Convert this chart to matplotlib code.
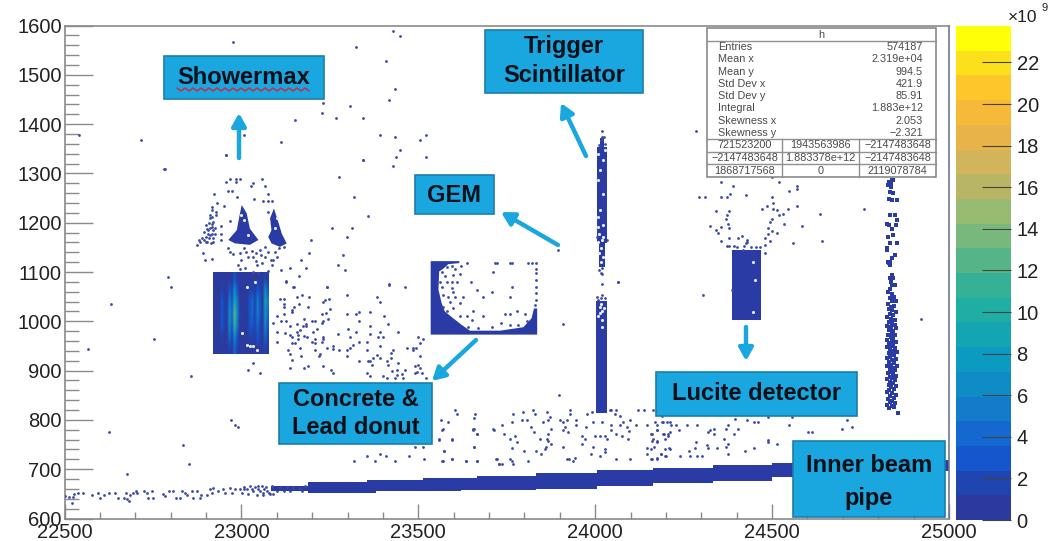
import numpy as np
import matplotlib
matplotlib.use("Agg")
import matplotlib.pyplot as plt
from matplotlib.colors import ListedColormap, Normalize
from matplotlib.patches import Rectangle, Polygon
from matplotlib.ticker import MultipleLocator

plt.rcParams["font.family"] = ["Liberation Sans", "DejaVu Sans"]

X_TICKS = [22500, 23000, 23500, 24000, 24500, 25000]
Y_TICKS = [600, 700, 800, 900, 1000, 1100, 1200, 1300, 1400, 1500, 1600]
CBAR_TICKS = [0, 2, 4, 6, 8, 10, 12, 14, 16, 18, 20, 22]
CBAR_MAX = 23.75

BAND_COLORS = ["#2c3a9e", "#1f45b0", "#1556cc", "#1468cf", "#127ccb", "#0f8cc6",
               "#0c9bc0", "#14a5b2", "#20aea4", "#35b296", "#55b588", "#78b87c",
               "#98bb72", "#b8b565", "#d2b45a", "#e8b348", "#f6ba38", "#fdc62a",
               "#fde01c", "#ffff08"]

# solid detector blocks: x0, x1, y0, y1
BLOCKS = [(24001, 24032, 814, 1042),
          (24004, 24032, 1158, 1354),
          (24011, 24028, 1111, 1158),
          (24013, 24026, 1354, 1372),
          (24387, 24468, 1003, 1144),
          (23085, 23189, 656, 665),
          (24985, 25000, 697, 717)]

# beam pipe, upper and lower edge per step
PIPE_X = [23189, 23354, 23380, 23512, 23620, 23667, 23834, 24004, 24164, 24333, 24500, 24670, 24850, 25000]
PIPE_TOP = [674, 678, 678, 682, 682, 687, 692, 699, 702, 708, 713, 715, 718, 718]
PIPE_BOT = [652, 652, 655, 655, 657, 657, 660, 665, 671, 677, 685, 690, 697, 697]

DONUT_X = [23535, 23616, 23616, 23585, 23571, 23559, 23557, 23566, 23575, 23599, 23622, 23646,
           23731, 23797, 23820, 23827, 23836, 23836, 23535]
DONUT_Y = [1122, 1122, 1118, 1116, 1107, 1101, 1064, 1037, 1020, 1006, 993, 981,
           981, 988, 1006, 1026, 1026, 973, 973]

CLUMP1_X = [23001, 23015, 23024, 23048, 23024, 22982, 22963, 22987, 22994]
CLUMP1_Y = [1236, 1219, 1188, 1165, 1155, 1158, 1165, 1185, 1212]
CLUMP2_X = [23092, 23104, 23114, 23128, 23109, 23085, 23076, 23085, 23081]
CLUMP2_Y = [1229, 1202, 1178, 1158, 1151, 1158, 1171, 1185, 1209]

# showermax block, 1e9 per cell, rows from the top
SHOWER_EXTENT = (22920, 23077, 934, 1100)
SHOWER_CELLS = [
    [1, 1, 1, 1, 1, 1, 1, 1, 3, 1, 1, 1, 1, 1, 1, 1, 1, 1, 1, 1, 2, 1],
    [1, 1, 1, 2, 1, 1, 3, 2, 6, 3, 1, 1, 1, 1, 2, 2, 1, 3, 2, 1, 6, 3],
    [1, 1, 1, 3, 2, 1, 5, 3, 9, 5, 1, 1, 1, 1, 3, 4, 2, 5, 3, 1, 9, 5],
    [1, 1, 1, 3, 2, 1, 6, 4, 13, 6, 2, 1, 1, 1, 3, 4, 2, 5, 3, 1, 8, 4],
    [1, 1, 1, 3, 2, 1, 6, 3, 11, 5, 1, 1, 1, 1, 3, 3, 2, 4, 2, 1, 6, 3],
    [1, 1, 1, 2, 1, 1, 4, 2, 7, 3, 1, 1, 1, 1, 2, 2, 1, 3, 2, 1, 4, 2],
    [1, 1, 1, 1, 1, 1, 2, 1, 4, 2, 1, 1, 1, 1, 1, 1, 1, 1, 1, 1, 2, 1],
]

TOP_PTS = [(22976, 1567), (23428, 1588), (23448, 1578), (23323, 1557), (23408, 1528), (23433, 1472),
           (23418, 1448), (23231, 1443), (23308, 1437), (23228, 1422), (23267, 1413), (23343, 1413),
           (23152, 1408), (22541, 1378), (22716, 1368), (23006, 1378), (23111, 1363), (23392, 1378),
           (23433, 1373), (23505, 1368), (23523, 1378), (23448, 1348), (23438, 1333), (23523, 1333),
           (22956, 1338), (23343, 1328), (23428, 1314), (22782, 1309), (22631, 1035), (22566, 943)]

SHOWER_OUTER = [(22957, 1338), (22783, 1308), (23343, 1328), (23277, 1293), (23318, 1253), (23359, 1214),
                (23256, 1189), (23312, 1189), (23298, 1170), (23198, 1165), (23192, 1139), (23286, 1134),
                (23168, 1124), (23272, 1114), (23293, 1104), (23182, 1109), (23111, 1105), (23138, 1109),
                (23163, 1091), (23126, 1080), (23148, 1070), (23241, 1070), (23417, 1074), (22793, 1090),
                (22802, 1070), (22752, 965), (22857, 890), (23018, 902), (23053, 895), (23032, 915)]

SHOWER_ARC = [(22957, 1283), (22968, 1288), (22985, 1288), (22996, 1288), (22985, 1283), (23057, 1288),
              (23067, 1274), (23032, 1280), (23028, 1274), (22961, 1265), (22973, 1265), (22987, 1253),
              (22923, 1259), (23074, 1259), (22930, 1239), (23037, 1248), (23062, 1244), (23074, 1244),
              (23086, 1244), (22951, 1234), (22917, 1232), (22917, 1226), (22928, 1222), (22928, 1215),
              (23076, 1222), (22912, 1209), (22921, 1202), (22968, 1203), (22943, 1193), (22899, 1195),
              (22916, 1192), (22907, 1185), (22921, 1185), (22893, 1182), (22912, 1175), (22921, 1168),
              (22888, 1168), (22881, 1165), (22874, 1155), (22904, 1161), (22921, 1161), (22943, 1178),
              (22943, 1165), (22891, 1139), (22897, 1124), (22916, 1126), (22961, 1148), (22968, 1141),
              (22976, 1136), (23007, 1148), (22996, 1138), (23067, 1151), (23053, 1145), (23105, 1148),
              (23020, 1131), (23034, 1131), (23067, 1130), (23083, 1124), (23058, 1118), (23043, 1114),
              (22989, 1114), (22996, 1107), (23010, 1109), (23034, 1101), (23048, 1097), (23090, 1124),
              (23119, 1151), (23100, 1131), (23086, 1114), (23074, 1103),
              (22905, 1178), (22900, 1172), (22912, 1190), (22925, 1178), (22895, 1165), (22908, 1168),
              (22917, 1212), (22912, 1215), (22917, 1198), (22908, 1200), (22902, 1188), (22918, 1178),
              (22900, 1160), (22884, 1160), (22914, 1158), (22925, 1190), (23040, 1138), (23030, 1142),
              (23012, 1140), (23000, 1125), (23055, 1135), (23075, 1140), (23095, 1140), (23040, 1122)]

CONCRETE_PTS = [(23126, 1081), (23147, 1069), (23241, 1069), (23418, 1075), (23463, 1069), (23109, 1045),
                (23121, 1045), (23119, 1035), (23119, 1029), (23158, 1050), (23172, 1054), (23192, 1050),
                (23162, 1035), (23149, 1030), (23142, 1023), (23142, 1019), (23187, 1030), (23232, 1040),
                (23236, 1044), (23247, 1045), (23298, 1054), (23382, 1050), (23392, 1040), (23251, 1025),
                (23239, 1017), (23227, 1015), (23102, 1010), (23121, 1015), (23111, 1000), (23126, 1000),
                (23177, 1004), (23246, 1004), (23232, 1000), (23227, 996), (23298, 1015), (23323, 1015),
                (23333, 1019), (23364, 1019), (23403, 1010), (23333, 1000), (23413, 995), (23090, 996),
                (23138, 990), (23158, 995), (23183, 995), (23183, 990), (23199, 1000), (23208, 1000),
                (23175, 990), (23166, 983), (23156, 979), (23138, 973), (23142, 968), (23161, 973),
                (23161, 964), (23123, 976), (23100, 979), (23102, 959), (23178, 971), (23186, 969),
                (23203, 979), (23213, 984), (23199, 959), (23208, 964), (23208, 956), (23232, 969),
                (23232, 964), (23227, 959), (23272, 975), (23302, 984), (23307, 969), (23323, 979),
                (23364, 990), (23364, 975), (23392, 979), (23387, 969), (23399, 969), (23444, 979),
                (23500, 969), (23514, 964), (23505, 956), (23142, 956), (23152, 956), (23166, 946),
                (23133, 941), (23138, 934), (23208, 941), (23241, 946), (23260, 949), (23260, 944),
                (23277, 941), (23298, 941), (23307, 946), (23315, 952), (23333, 959), (23354, 959),
                (23392, 950), (23354, 941), (23467, 946), (23484, 946), (23484, 941), (23494, 946),
                (23222, 934), (23218, 929), (23168, 930), (23298, 930), (23428, 941), (23422, 936),
                (23382, 932), (23392, 925), (23373, 925), (23364, 919), (23368, 912), (23359, 919),
                (23333, 920), (23411, 919), (23415, 912), (23422, 925), (23444, 915), (23505, 930),
                (23500, 912), (23491, 910), (23505, 905), (23495, 898), (23142, 921), (23138, 905),
                (23178, 905), (23187, 910), (23232, 910), (23252, 902), (23258, 895), (23354, 895),
                (23364, 890), (23399, 890), (23411, 885), (23425, 900), (23439, 902), (23439, 892),
                (23463, 902), (23453, 893), (23434, 885), (23458, 885), (23491, 895), (23510, 895),
                (23522, 885)]

LOW_LEFT_PTS = [(22627, 775), (22836, 750), (22851, 711), (22676, 691), (22972, 800), (22982, 790),
                (22991, 786), (23317, 716), (23354, 726), (23377, 716), (23392, 731), (23408, 726),
                (23433, 716), (23474, 726), (23490, 745), (23512, 745), (23517, 721), (23573, 736),
                (23568, 716), (23594, 721), (23634, 716), (23667, 716), (23658, 745), (23558, 760),
                (23594, 760), (23568, 780), (23655, 780), (23667, 771), (23714, 780), (23723, 721),
                (23728, 711), (23894, 1145), (23909, 995), (23898, 851)]

LOW_MID_PTS = [(23604, 821), (23608, 812), (23660, 811), (23657, 804), (23563, 800), (23583, 796),
               (23569, 782), (23654, 782), (23658, 782), (23667, 771), (23558, 762), (23594, 762),
               (23657, 746), (23574, 736), (23569, 716), (23594, 721), (23635, 716), (23667, 716),
               (23712, 782), (23737, 790), (23743, 771), (23764, 796), (23769, 811), (23797, 816),
               (23792, 800), (23808, 800), (23823, 821), (23830, 812), (23865, 816), (23872, 805),
               (23867, 800), (23853, 796), (23874, 782), (23867, 771), (23818, 786), (23828, 775),
               (23759, 762), (23773, 767), (23780, 755), (23844, 762), (23863, 762), (23867, 757),
               (23874, 751), (23860, 746), (23858, 740), (23847, 731), (23833, 736), (23799, 736),
               (23764, 742), (23721, 721), (23728, 711), (23737, 711), (23759, 721), (23764, 716),
               (23769, 711), (23811, 716), (23919, 721), (23927, 721), (23938, 716), (23943, 723),
               (23929, 821), (23929, 812), (23900, 800), (23910, 796), (23919, 800), (23947, 800),
               (23947, 790), (23915, 786), (23910, 780), (23924, 775), (23910, 746), (23973, 786),
               (23964, 767), (23971, 762), (23964, 751), (23995, 746), (23999, 767), (24013, 767),
               (24028, 767), (24032, 762), (24029, 740), (24029, 735), (24013, 726), (23988, 731),
               (24060, 721), (24098, 721), (23995, 796), (24020, 796), (23976, 811), (23990, 816),
               (24042, 821), (24046, 821), (24060, 821), (24056, 812), (24070, 807), (24098, 800),
               (24046, 790), (24046, 780), (24060, 771), (24089, 786), (24096, 777), (24079, 796),
               (24070, 790), (24077, 767), (24093, 762), (24114, 790), (24145, 790), (24159, 771),
               (24164, 762), (24174, 755), (24159, 740), (24145, 742), (24145, 731), (24159, 721),
               (24174, 721), (24185, 731), (24197, 726), (24211, 740), (24207, 771), (24174, 780),
               (24192, 771), (24192, 796), (24211, 796), (24122, 821), (24138, 821), (24164, 821)]

LOW_RIGHT_PTS = [(24169, 796), (24176, 790), (24174, 780), (24190, 796), (24202, 796), (24213, 790),
                 (24228, 790), (24238, 780), (24259, 790), (24289, 790), (24212, 775), (24195, 771),
                 (24207, 767), (24197, 762), (24160, 771), (24174, 757), (24160, 757), (24166, 746),
                 (24197, 740), (24210, 742), (24185, 731), (24200, 726), (24174, 723), (24160, 721),
                 (24240, 726), (24266, 736), (24268, 726), (24282, 743), (24285, 755), (24289, 726),
                 (24301, 726), (24315, 750), (24320, 742), (24343, 742), (24370, 746), (24374, 751),
                 (24364, 762), (24320, 775), (24336, 781), (24325, 780), (24336, 771), (24370, 781),
                 (24374, 790), (24391, 771), (24405, 781), (24376, 731), (24423, 736), (24450, 742),
                 (24487, 760), (24489, 755), (24513, 751), (24430, 800), (24449, 796), (24461, 796),
                 (24395, 802), (24489, 805), (24555, 805), (24549, 790), (24601, 775), (24612, 775),
                 (24711, 800), (24697, 781), (24725, 786), (24190, 807)]

LUCITE_PTS = [(24355, 1282), (24390, 1274), (24294, 1252), (24310, 1252), (24355, 1252), (24373, 1252),
              (24381, 1259), (24425, 1257), (24341, 1224), (24372, 1215), (24379, 1224), (24370, 1208),
              (24376, 1198), (24379, 1190), (24325, 1193), (24341, 1185), (24348, 1179), (24355, 1191),
              (24379, 1168), (24355, 1163), (24405, 1168), (24414, 1173), (24499, 1252), (24503, 1239),
              (24485, 1233), (24471, 1228), (24503, 1228), (24515, 1226), (24520, 1215), (24530, 1218),
              (24544, 1228), (24569, 1233), (24549, 1264), (24569, 1274), (24569, 1269), (24520, 1282),
              (24499, 1293), (24535, 1198), (24585, 1193), (24634, 1218), (24761, 1228), (24499, 1208),
              (24494, 1201), (24487, 1190), (24499, 1183), (24515, 1179), (24489, 1178), (24480, 1168),
              (24494, 1163), (24560, 1159), (24640, 1163), (24379, 1152), (24480, 1154), (24480, 1139),
              (24306, 1054), (24386, 1064), (24920, 1004), (24419, 1144), (24430, 1161),
              (24400, 1150), (24420, 1152), (24425, 1158), (24430, 1165), (24440, 1150), (24455, 1150),
              (24465, 1150), (24392, 1152), (24372, 1152), (24284, 1387)]

DONUT_PTS = [(23566, 1099), (23580, 1111), (23594, 1112), (23604, 1107), (23575, 1092), (23599, 1094),
             (23618, 1095), (23561, 1080), (23580, 1080), (23594, 1080), (23608, 1080), (23648, 1080),
             (23566, 1070), (23594, 1067), (23571, 1053), (23599, 1060), (23585, 1050), (23604, 1050),
             (23618, 1037), (23590, 1040), (23599, 1027), (23571, 1030), (23580, 1020), (23627, 1050),
             (23684, 1050), (23707, 1059), (23667, 1064), (23712, 1099), (23764, 1069), (23759, 1050),
             (23717, 1119), (23723, 1119), (23759, 1119), (23764, 1119), (23811, 1119), (23820, 1119),
             (23833, 1119), (23833, 1107), (23833, 1097), (23833, 1084), (23833, 1070), (23833, 1057),
             (23833, 1043), (23637, 1119), (23622, 1112), (23618, 1010), (23637, 1011), (23655, 1020),
             (23651, 1003), (23684, 1010), (23745, 1015), (23759, 1015), (23780, 1020), (23801, 1015),
             (23830, 1033), (23670, 986), (23641, 988), (23733, 996), (23707, 989), (23759, 993),
             (23783, 993), (23806, 1000)]

TRIGGER_PTS = [(24020, 1387), (24020, 1374), (24016, 1367), (24026, 1374), (24011, 1357), (24028, 1360),
               (24016, 1097), (24020, 1095), (24020, 1076), (24065, 1079), (24004, 1050), (24020, 1053),
               (24016, 1047), (24009, 1043), (24028, 1048), (24064, 1080),
               (24011, 1104), (24020, 1108), (24004, 1170), (24032, 1165)]

STRIP_PTS = [(24838, 1286), (24830, 1283), (24842, 1286), (24828, 1276), (24836, 1273), (24833, 1263),
             (24842, 1261), (24830, 1249), (24838, 1246), (24852, 1246), (24833, 1215), (24847, 1215),
             (24852, 1205), (24849, 1195), (24830, 1195), (24838, 1188), (24824, 1198), (24828, 1171),
             (24842, 1175), (24852, 1158), (24833, 1158), (24824, 1148), (24847, 1134), (24838, 1128),
             (24830, 1118), (24833, 1121), (24826, 1144), (24833, 1114), (24828, 1121), (24835, 1278),
             (24838, 1094), (24833, 1087), (24842, 1087), (24835, 1080), (24838, 1073), (24847, 1073),
             (24833, 1066), (24828, 1060), (24840, 1056), (24845, 1050), (24833, 1048), (24838, 1042),
             (24850, 1041), (24828, 1035), (24835, 1030), (24845, 1032), (24829, 1024), (24840, 1022),
             (24850, 1018), (24833, 1014), (24843, 1012), (24826, 1008), (24836, 1005), (24848, 1003),
             (24830, 999), (24840, 997), (24846, 993), (24826, 990), (24836, 988), (24850, 986),
             (24831, 982), (24842, 980), (24838, 975), (24828, 973), (24847, 972), (24835, 968),
             (24842, 966), (24826, 963), (24838, 960), (24850, 958), (24831, 956), (24843, 954),
             (24836, 950), (24826, 948), (24846, 946), (24833, 943), (24841, 940), (24852, 938),
             (24829, 936), (24838, 934), (24845, 931), (24833, 928), (24826, 925), (24849, 924),
             (24840, 921), (24831, 918), (24845, 915), (24836, 912), (24826, 910), (24852, 909),
             (24841, 906), (24832, 903), (24847, 901), (24837, 898), (24828, 895), (24843, 893),
             (24851, 890), (24834, 888), (24840, 885), (24826, 882), (24847, 880), (24833, 877),
             (24841, 874), (24829, 871), (24851, 869), (24837, 866), (24845, 863), (24831, 860),
             (24826, 856), (24840, 854), (24850, 851), (24834, 848), (24845, 845), (24828, 842),
             (24839, 839), (24832, 836), (24848, 834), (24826, 830), (24838, 828), (24844, 826),
             (24830, 824), (24855, 815)]

PIPE_DOTS = [(22502, 645), (22513, 644), (22523, 644), (22521, 632), (22527, 649), (22539, 651),
             (22552, 651), (22577, 647), (22594, 651), (22601, 642), (22612, 647), (22627, 651),
             (22643, 651), (22652, 641), (22667, 642), (22678, 640), (22681, 636), (22674, 651),
             (22685, 647), (22695, 651), (22701, 655), (22706, 651), (22726, 655), (22734, 651),
             (22747, 655), (22737, 642), (22751, 642), (22778, 649), (22784, 645), (22794, 655),
             (22806, 655), (22815, 641), (22827, 641), (22831, 655), (22841, 651), (22847, 647),
             (22860, 655), (22874, 655), (22862, 641), (22883, 642), (22885, 647), (22902, 647),
             (22916, 651), (22911, 660), (22921, 662), (22935, 655), (22947, 660), (22968, 662),
             (22954, 651), (22973, 651), (22982, 660), (23001, 651), (22996, 660), (23015, 660),
             (23025, 665), (23039, 664), (23057, 665), (23034, 655), (23053, 655), (23072, 655),
             (23086, 665), (23109, 664), (23128, 664), (23147, 664), (23166, 662), (23180, 665),
             (23100, 655), (23119, 655), (23138, 655), (23170, 655), (23020, 649), (23043, 647),
             (23062, 647), (23081, 649), (23008, 660), (23030, 660), (23046, 660), (23065, 660),
             (23008, 664), (23048, 665), (23070, 664), (23090, 650), (23060, 651), (23078, 651)]

# white gaps inside the solid blocks
HOLES = [(24007, 1340), (24023, 1327), (24013, 1306), (24009, 1286), (24023, 1259), (24007, 1212),
         (24013, 1225), (24009, 1192), (24023, 1195), (24011, 1178), (24018, 1165), (24007, 1161),
         (24023, 1172), (24028, 1347), (24016, 1148), (24011, 1138), (24023, 1131), (24016, 1121),
         (24013, 1030), (24020, 1020), (24009, 1010), (24018, 1003), (24013, 1016), (24018, 989),
         (24016, 1036), (24026, 1026),
         (24447, 1120), (24452, 1084), (24447, 1018),
         (23017, 1070), (23039, 1080), (23001, 976), (23017, 952), (23025, 949), (23034, 949), (23043, 942),
         (23008, 1205), (23020, 1175), (23000, 1215), (23095, 1190), (23100, 1210)]

BOX_LINE = "#1d7ea8"
BOX_FILL = "#1aa7e0"
LINE_COL = "#8a8a8a"
DOT_COL = "#3a49a6"
SOLID_COL = "#2b3ba6"
TXT_COL = "#222222"

W, H = 1048, 541


def ax_rect(x0, x1, y0, y1):
    return [x0 / W, 1 - y1 / H, (x1 - x0) / W, (y1 - y0) / H]


fig = plt.figure(figsize=(W / 100, H / 100), dpi=100)
ax = fig.add_axes(ax_rect(64.5, 949, 25.5, 518.5))

cmap = ListedColormap(BAND_COLORS)
norm = Normalize(0, CBAR_MAX)

for x0, x1, y0, y1 in BLOCKS:
    ax.add_patch(Rectangle((x0, y0), x1 - x0, y1 - y0, fc=SOLID_COL, ec="none", zorder=2))
ax.fill_between(PIPE_X, PIPE_BOT, PIPE_TOP, step="post", color=SOLID_COL, lw=0, zorder=2)
ax.add_patch(Polygon(np.column_stack([DONUT_X, DONUT_Y]), fc=SOLID_COL, ec="none", zorder=2))
ax.add_patch(Polygon(np.column_stack([CLUMP1_X, CLUMP1_Y]), fc=SOLID_COL, ec="none", zorder=2))
ax.add_patch(Polygon(np.column_stack([CLUMP2_X, CLUMP2_Y]), fc=SOLID_COL, ec="none", zorder=2))

im = ax.imshow(SHOWER_CELLS, extent=SHOWER_EXTENT, aspect="auto", cmap=cmap, norm=norm,
               interpolation="bilinear", zorder=2)

for pts in [TOP_PTS, SHOWER_OUTER, SHOWER_ARC, CONCRETE_PTS, LOW_LEFT_PTS, LOW_MID_PTS, LOW_RIGHT_PTS,
            LUCITE_PTS, DONUT_PTS, TRIGGER_PTS, PIPE_DOTS]:
    xs, ys = zip(*pts)
    ax.scatter(xs, ys, s=4, marker="o", color=DOT_COL, linewidths=0, zorder=3)

xs, ys = zip(*STRIP_PTS)
ax.scatter(xs, ys, s=8, marker="s", color=SOLID_COL, linewidths=0, zorder=3)

xs, ys = zip(*HOLES)
ax.scatter(xs, ys, s=5, marker="o", color="#e8ecf8", linewidths=0, zorder=3)

ax.set_xlim(22500, 25000)
ax.set_ylim(600, 1600)
ax.set_xticks(X_TICKS)
ax.set_yticks(Y_TICKS)
ax.xaxis.set_minor_locator(MultipleLocator(100))
ax.yaxis.set_minor_locator(MultipleLocator(20))
ax.tick_params(axis="x", which="major", length=10.5, width=1, color=LINE_COL, direction="in",
               labelsize=14.5, labelcolor=TXT_COL, pad=3)
ax.tick_params(axis="x", which="minor", length=5, width=1, color=LINE_COL, direction="in")
ax.tick_params(axis="y", which="major", length=20, width=1, color=LINE_COL, direction="in",
               labelsize=14.5, labelcolor=TXT_COL, pad=2)
ax.tick_params(axis="y", which="minor", length=10, width=1, color=LINE_COL, direction="in")
for s in ax.spines.values():
    s.set_color(LINE_COL)
    s.set_linewidth(1.2)
ax.spines["right"].set_color("#6f7890")

cax = fig.add_axes(ax_rect(956, 1011, 26, 520))
cb = fig.colorbar(im, cax=cax, ticks=CBAR_TICKS)
cb.outline.set_visible(False)
cb.ax.tick_params(length=21, width=0.8, color="#444444", direction="in", labelsize=14.5,
                  labelcolor=TXT_COL, pad=4)

# overlay in picture pixels for the slide annotations
ov = fig.add_axes([0, 0, 1, 1])
ov.set_xlim(0, W)
ov.set_ylim(H, 0)
ov.axis("off")
ov.patch.set_alpha(0)

ov.text(1008, 18, "×10", fontsize=12.5, color=TXT_COL, va="center", ha="left")
ov.text(1041, 8, "9", fontsize=8, color=TXT_COL, va="center", ha="left", clip_on=True)


def label_box(x0, x1, y0, y1, lines, ys):
    ov.add_patch(Rectangle((x0, y0), x1 - x0, y1 - y0, fc=BOX_FILL, ec=BOX_LINE, lw=1.2, zorder=6))
    for line, yy in zip(lines, ys):
        ov.text((x0 + x1) / 2, yy, line, fontsize=17, fontweight="bold", color="#071018",
                ha="center", va="center", zorder=7)


def arrow(x0, y0, x1, y1):
    ov.annotate("", xy=(x1, y1), xytext=(x0, y0), zorder=5,
                arrowprops=dict(arrowstyle="-|>,head_width=0.42,head_length=0.75", color=BOX_FILL, lw=3.2,
                                shrinkA=0, shrinkB=0))


arrow(239, 158, 239, 113)
arrow(586, 156, 561, 103)
arrow(558, 245, 501, 212)
arrow(476, 340, 432, 381)
arrow(746, 327, 746, 361)

label_box(163.5, 324, 56, 99, ["Showermax"], [78])
label_box(485, 643, 30, 93, ["Trigger", "Scintillator"], [47, 76])
label_box(415, 494, 175, 214, ["GEM"], [195])
label_box(279, 432, 383, 444, ["Concrete &", "Lead donut"], [399, 428])
label_box(656, 857, 372, 416, ["Lucite detector"], [393])
label_box(793, 945, 441, 517, ["Inner beam", "pipe"], [466, 498])

# spell check squiggle under Showermax
sq_x = np.arange(177, 312, 4)
sq_y = [88 if i % 2 == 0 else 91 for i in range(len(sq_x))]
ov.plot(sq_x, sq_y, color="#c22f45", lw=1.1, zorder=8)

# stats box
STAT_NAMES = ["Entries", "Mean x", "Mean y", "Std Dev x", "Std Dev y", "Integral", "Skewness x", "Skewness y"]
STAT_VALUES = ["574187", "2.319e+04", "994.5", "421.9", "85.91", "1.883e+12", "2.053", "−2.321"]
STAT_ROWS = [46.7, 59.3, 71.7, 84, 96.3, 108.3, 121, 133.3]
STAT_TABLE = [["721523200", "1943563986", "−2147483648"],
              ["−2147483648", "1.883378e+12", "−2147483648"],
              ["1868717568", "0", "2119078784"]]
TABLE_ROWS = [145.5, 158, 170.5]
TABLE_COLS = [744.5, 820.5, 897.5]
STAT_COL = "#4a4a4a"

ov.add_patch(Rectangle((706.5, 28), 229.5, 149, fc="white", ec="#808080", lw=1.1, zorder=6))
ov.plot([706.5, 936], [40.7, 40.7], color="#909090", lw=1, zorder=7)
ov.text(821, 34.5, "h", fontsize=7.8, color=STAT_COL, ha="center", va="center", zorder=7)
for name, val, yy in zip(STAT_NAMES, STAT_VALUES, STAT_ROWS):
    ov.text(718, yy, name, fontsize=7.8, color=STAT_COL, ha="left", va="center", zorder=7)
    ov.text(923, yy, val, fontsize=7.8, color=STAT_COL, ha="right", va="center", zorder=7)
for yy in [139, 151.7, 164]:
    ov.plot([706.5, 936], [yy, yy], color="#909090", lw=1, zorder=7)
for xx in [782, 859.3]:
    ov.plot([xx, xx], [139, 177], color="#909090", lw=1, zorder=7)
for row, yy in zip(STAT_TABLE, TABLE_ROWS):
    for cell, xx in zip(row, TABLE_COLS):
        ov.text(xx, yy, cell, fontsize=7.8, color=STAT_COL, ha="center", va="center", zorder=7)

fig.savefig("out.png", dpi=100)
